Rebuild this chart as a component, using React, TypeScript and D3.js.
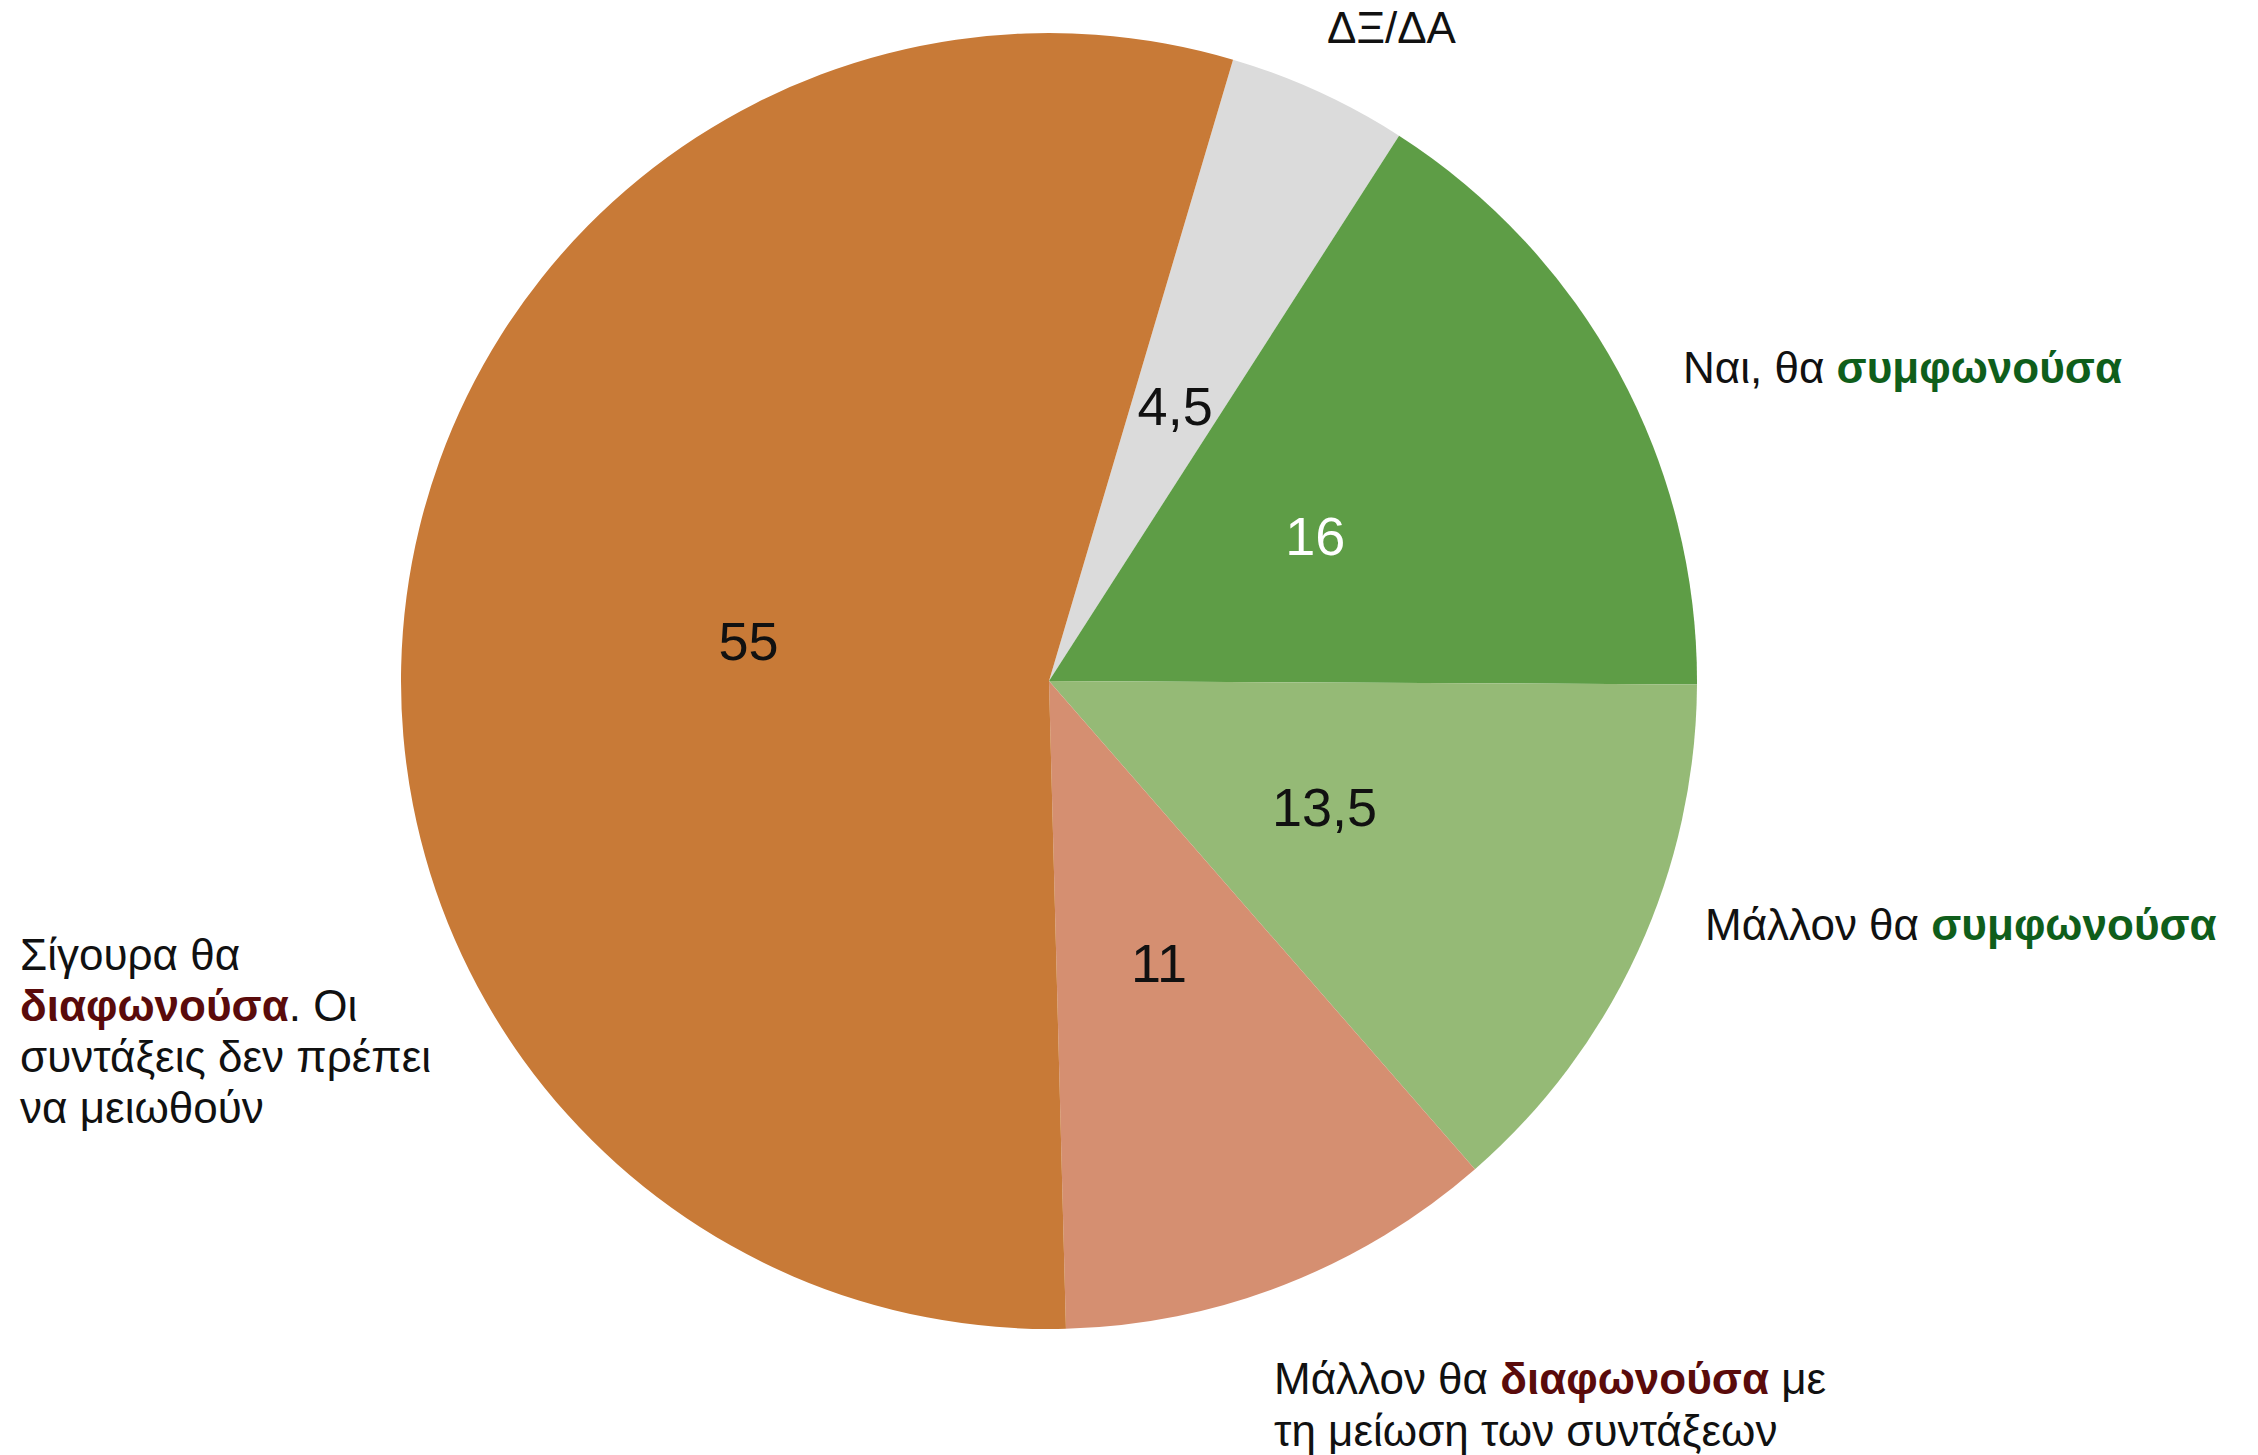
import React from "react";
import * as d3 from "d3";

const categories = [
  "ΔΞ/ΔΑ",
  "Ναι, θα συμφωνούσα",
  "Μάλλον θα συμφωνούσα",
  "Μάλλον θα διαφωνούσα με τη μείωση των συντάξεων",
  "Σίγουρα θα διαφωνούσα. Οι συντάξεις δεν πρέπει να μειωθούν",
];
const values = [4.5, 16, 13.5, 11, 55];
const valueLabels = ["4,5", "16", "13,5", "11", "55"];
const colors = ["#DBDBDB", "#5E9D46", "#95BA76", "#D58F71", "#C87A37"];
const valueTextColors = ["#111", "#fff", "#111", "#111", "#111"];

const W = 2258;
const H = 1455;
const cx = 1049;
const cy = 681;
const R = 648;
const startDeg = 16.5;
const FONT = "'Liberation Sans', Arial, Helvetica, sans-serif";
const GREEN = "#0F5E1B";
const RED = "#5A0B0B";

export default function App() {
  const start = (startDeg * Math.PI) / 180;
  const pie = d3
    .pie<number>()
    .sort(null)
    .value((d) => d)
    .startAngle(start)
    .endAngle(start + 2 * Math.PI);
  const arcs = pie(values);
  const arc = d3.arc<d3.PieArcDatum<number>>().innerRadius(0).outerRadius(R);
  const labelArc = d3
    .arc<d3.PieArcDatum<number>>()
    .innerRadius(303)
    .outerRadius(303);

  const fs = 44;
  return (
    <div style={{ position: "absolute", left: 0, top: 0, background: "#fff" }}>
      <svg width={W} height={H} style={{ display: "block" }} fontFamily={FONT}>
        <rect width={W} height={H} fill="#fff" />
        <g transform={`translate(${cx},${cy})`}>
          {arcs.map((a, i) => (
            <path key={categories[i]} d={arc(a) || ""} fill={colors[i]} />
          ))}
          {arcs.map((a, i) => {
            const [x, y] = labelArc.centroid(a);
            return (
              <text
                key={"v" + i}
                x={x}
                y={y}
                textAnchor="middle"
                dominantBaseline="central"
                fontSize={54}
                fill={valueTextColors[i]}
              >
                {valueLabels[i]}
              </text>
            );
          })}
        </g>
        <g fontSize={fs} fill="#111">
          <text x={1327} y={43}>ΔΞ/ΔΑ</text>
          <text x={1683} y={383}>
            Ναι, θα{" "}
            <tspan fontWeight="bold" fill={GREEN}>
              συμφωνούσα
            </tspan>
          </text>
          <text x={1705} y={940}>
            Μάλλον θα{" "}
            <tspan fontWeight="bold" fill={GREEN}>
              συμφωνούσα
            </tspan>
          </text>
          <text x={20} y={970}>Σίγουρα θα</text>
          <text x={20} y={1021}>
            <tspan fontWeight="bold" fill={RED}>
              διαφωνούσα
            </tspan>
            . Οι
          </text>
          <text x={20} y={1072}>συντάξεις δεν πρέπει</text>
          <text x={20} y={1123}>να μειωθούν</text>
          <text x={1274} y={1394}>
            Μάλλον θα{" "}
            <tspan fontWeight="bold" fill={RED}>
              διαφωνούσα
            </tspan>{" "}
            με
          </text>
          <text x={1274} y={1446}>τη μείωση των συντάξεων</text>
        </g>
      </svg>
    </div>
  );
}
